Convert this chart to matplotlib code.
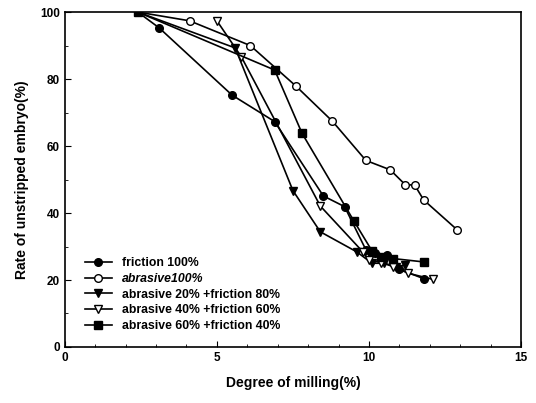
import matplotlib
matplotlib.use('Agg')
import matplotlib.pyplot as plt
from matplotlib.ticker import MultipleLocator

plt.rcParams['font.family'] = ['Liberation Sans', 'DejaVu Sans']
plt.rcParams['font.weight'] = 'bold'

# friction 100%
fr_x = [2.4, 3.1, 5.5, 6.9, 8.5, 9.2, 9.9, 10.2, 10.6, 11.0, 11.8]
fr_y = [100, 95.3, 75.2, 67.3, 45.1, 41.9, 29.0, 28.2, 27.4, 23.2, 20.4]
# abrasive 100%
ab_x = [2.4, 4.1, 6.1, 7.6, 8.8, 9.9, 10.7, 11.2, 11.5, 11.8, 12.9]
ab_y = [100, 97.4, 90.0, 77.9, 67.4, 55.7, 52.9, 48.4, 48.4, 43.9, 35.0]
# abrasive 20% + friction 80%
a20_x = [2.4, 5.6, 7.5, 8.4, 9.6, 10.1, 10.5, 10.9, 11.2]
a20_y = [100, 89.3, 46.7, 34.4, 28.4, 25.0, 25.0, 24.0, 24.5]
# abrasive 40% + friction 60%
a40_x = [5.0, 5.8, 8.4, 9.8, 10.0, 10.4, 10.8, 11.3, 12.1]
a40_y = [97.4, 86.7, 42.1, 28.4, 26.0, 25.2, 24.0, 22.0, 20.2]
# abrasive 60% + friction 40%
a60_x = [2.4, 6.9, 7.8, 9.5, 10.1, 10.4, 10.8, 11.8]
a60_y = [100, 82.7, 63.8, 37.7, 28.7, 27.0, 26.4, 25.4]

fig = plt.figure(figsize=(5.36, 4.03), dpi=100)
ax = fig.add_axes([0.121, 0.139, 0.851, 0.831])

kw = dict(color='black', lw=1.2, ms=5.5)
ax.plot(fr_x, fr_y, marker='o', mfc='black', label='friction 100%', **kw)
ax.plot(ab_x, ab_y, marker='o', mfc='white', label='abrasive100%', **kw)
ax.plot(a20_x, a20_y, marker='v', mfc='black', label='abrasive 20% +friction 80%', **kw)
ax.plot(a40_x, a40_y, marker='v', mfc='white', label='abrasive 40% +friction 60%', **kw)
ax.plot(a60_x, a60_y, marker='s', mfc='black', label='abrasive 60% +friction 40%', **kw)

ax.set_xlim(0, 15)
ax.set_ylim(0, 100)
ax.xaxis.set_major_locator(MultipleLocator(5))
ax.xaxis.set_minor_locator(MultipleLocator(1))
ax.yaxis.set_major_locator(MultipleLocator(20))
ax.yaxis.set_minor_locator(MultipleLocator(10))
ax.tick_params(which='both', direction='in', labelsize=8.5)
ax.tick_params(which='major', length=4)
ax.tick_params(which='minor', length=2.5)
for s in ax.spines.values():
    s.set_linewidth(1.2)

ax.set_xlabel('Degree of milling(%)', fontsize=10, fontweight='bold', labelpad=9)
ax.set_ylabel('Rate of unstripped embryo(%)', fontsize=10, fontweight='bold', labelpad=8)

leg = ax.legend(loc='lower left', bbox_to_anchor=(0.02, 0.012), frameon=False,
                fontsize=8.8, handlelength=2.2, labelspacing=0.3, handletextpad=0.8)
leg.get_texts()[1].set_fontstyle('italic')

fig.savefig('out.png', dpi=100)
